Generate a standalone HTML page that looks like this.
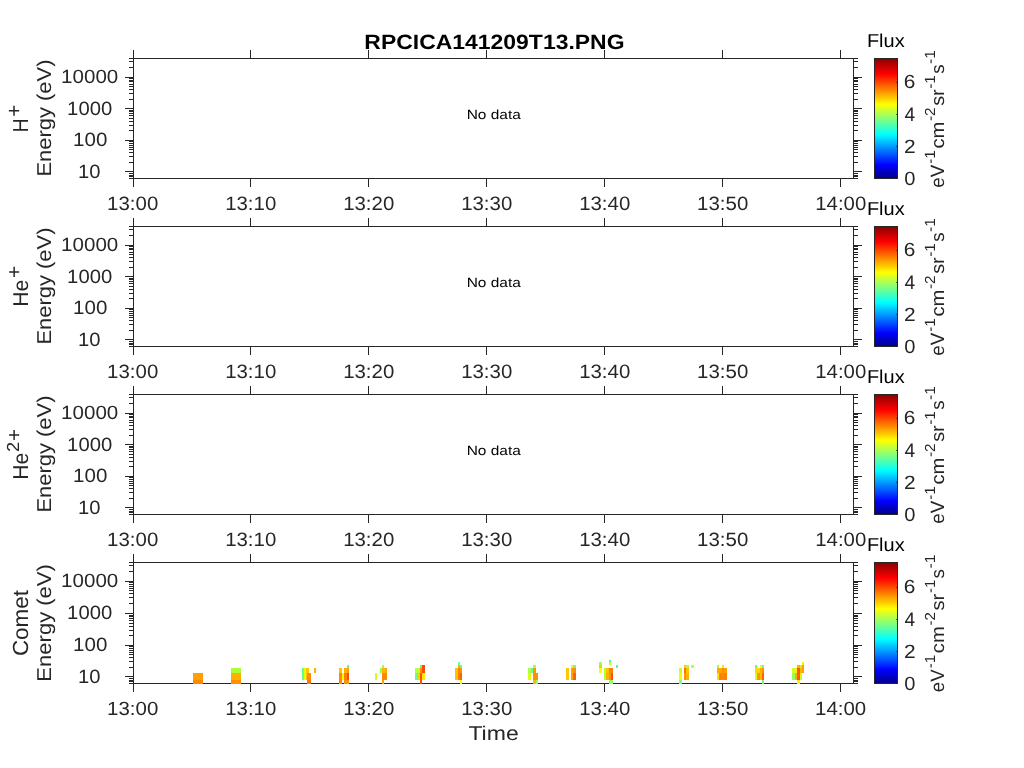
<!DOCTYPE html>
<html><head><meta charset="utf-8"><title>RPCICA141209T13</title>
<style>html,body{margin:0;padding:0;background:#fff;overflow:hidden;} svg{display:block;will-change:transform;} text{font-family:"Liberation Sans", sans-serif;text-rendering:geometricPrecision;}</style>
</head><body>
<svg width="1024" height="768" viewBox="0 0 1024 768">
<defs><linearGradient id="jet" x1="0" y1="1" x2="0" y2="0">
<stop offset="0" stop-color="#00008f"/><stop offset="0.111" stop-color="#0000ff"/>
<stop offset="0.365" stop-color="#00ffff"/><stop offset="0.619" stop-color="#ffff00"/>
<stop offset="0.873" stop-color="#ff0000"/><stop offset="1" stop-color="#8f0000"/></linearGradient></defs>
<rect x="0" y="0" width="1024" height="768" fill="#fff"/>
<g shape-rendering="crispEdges">
<rect x="133" y="58" width="721" height="1" fill="#262626"/>
<rect x="133" y="178" width="721" height="1" fill="#262626"/>
<rect x="133" y="58" width="1" height="121" fill="#262626"/>
<rect x="853" y="58" width="1" height="121" fill="#262626"/>
<rect x="133" y="50" width="1" height="8" fill="#262626"/>
<rect x="133" y="179" width="1" height="8" fill="#262626"/>
<rect x="250" y="50" width="1" height="8" fill="#262626"/>
<rect x="250" y="179" width="1" height="8" fill="#262626"/>
<rect x="368" y="50" width="1" height="8" fill="#262626"/>
<rect x="368" y="179" width="1" height="8" fill="#262626"/>
<rect x="486" y="50" width="1" height="8" fill="#262626"/>
<rect x="486" y="179" width="1" height="8" fill="#262626"/>
<rect x="604" y="50" width="1" height="8" fill="#262626"/>
<rect x="604" y="179" width="1" height="8" fill="#262626"/>
<rect x="722" y="50" width="1" height="8" fill="#262626"/>
<rect x="722" y="179" width="1" height="8" fill="#262626"/>
<rect x="840" y="50" width="1" height="8" fill="#262626"/>
<rect x="840" y="179" width="1" height="8" fill="#262626"/>
<rect x="125" y="171" width="8" height="1" fill="#262626"/>
<rect x="854" y="171" width="8" height="1" fill="#262626"/>
<rect x="125" y="140" width="8" height="1" fill="#262626"/>
<rect x="854" y="140" width="8" height="1" fill="#262626"/>
<rect x="125" y="108" width="8" height="1" fill="#262626"/>
<rect x="854" y="108" width="8" height="1" fill="#262626"/>
<rect x="125" y="77" width="8" height="1" fill="#262626"/>
<rect x="854" y="77" width="8" height="1" fill="#262626"/>
<rect x="129" y="162" width="4" height="1" fill="#262626"/>
<rect x="854" y="162" width="4" height="1" fill="#262626"/>
<rect x="129" y="156" width="4" height="1" fill="#262626"/>
<rect x="854" y="156" width="4" height="1" fill="#262626"/>
<rect x="129" y="152" width="4" height="1" fill="#262626"/>
<rect x="854" y="152" width="4" height="1" fill="#262626"/>
<rect x="129" y="149" width="4" height="1" fill="#262626"/>
<rect x="854" y="149" width="4" height="1" fill="#262626"/>
<rect x="129" y="147" width="4" height="1" fill="#262626"/>
<rect x="854" y="147" width="4" height="1" fill="#262626"/>
<rect x="129" y="145" width="4" height="1" fill="#262626"/>
<rect x="854" y="145" width="4" height="1" fill="#262626"/>
<rect x="129" y="143" width="4" height="1" fill="#262626"/>
<rect x="854" y="143" width="4" height="1" fill="#262626"/>
<rect x="129" y="141" width="4" height="1" fill="#262626"/>
<rect x="854" y="141" width="4" height="1" fill="#262626"/>
<rect x="129" y="130" width="4" height="1" fill="#262626"/>
<rect x="854" y="130" width="4" height="1" fill="#262626"/>
<rect x="129" y="125" width="4" height="1" fill="#262626"/>
<rect x="854" y="125" width="4" height="1" fill="#262626"/>
<rect x="129" y="121" width="4" height="1" fill="#262626"/>
<rect x="854" y="121" width="4" height="1" fill="#262626"/>
<rect x="129" y="118" width="4" height="1" fill="#262626"/>
<rect x="854" y="118" width="4" height="1" fill="#262626"/>
<rect x="129" y="115" width="4" height="1" fill="#262626"/>
<rect x="854" y="115" width="4" height="1" fill="#262626"/>
<rect x="129" y="113" width="4" height="1" fill="#262626"/>
<rect x="854" y="113" width="4" height="1" fill="#262626"/>
<rect x="129" y="111" width="4" height="1" fill="#262626"/>
<rect x="854" y="111" width="4" height="1" fill="#262626"/>
<rect x="129" y="110" width="4" height="1" fill="#262626"/>
<rect x="854" y="110" width="4" height="1" fill="#262626"/>
<rect x="129" y="99" width="4" height="1" fill="#262626"/>
<rect x="854" y="99" width="4" height="1" fill="#262626"/>
<rect x="129" y="93" width="4" height="1" fill="#262626"/>
<rect x="854" y="93" width="4" height="1" fill="#262626"/>
<rect x="129" y="89" width="4" height="1" fill="#262626"/>
<rect x="854" y="89" width="4" height="1" fill="#262626"/>
<rect x="129" y="86" width="4" height="1" fill="#262626"/>
<rect x="854" y="86" width="4" height="1" fill="#262626"/>
<rect x="129" y="84" width="4" height="1" fill="#262626"/>
<rect x="854" y="84" width="4" height="1" fill="#262626"/>
<rect x="129" y="81" width="4" height="1" fill="#262626"/>
<rect x="854" y="81" width="4" height="1" fill="#262626"/>
<rect x="129" y="80" width="4" height="1" fill="#262626"/>
<rect x="854" y="80" width="4" height="1" fill="#262626"/>
<rect x="129" y="78" width="4" height="1" fill="#262626"/>
<rect x="854" y="78" width="4" height="1" fill="#262626"/>
<rect x="129" y="67" width="4" height="1" fill="#262626"/>
<rect x="854" y="67" width="4" height="1" fill="#262626"/>
<rect x="129" y="61" width="4" height="1" fill="#262626"/>
<rect x="854" y="61" width="4" height="1" fill="#262626"/>
<rect x="129" y="58" width="4" height="1" fill="#262626"/>
<rect x="854" y="58" width="4" height="1" fill="#262626"/>
<rect x="129" y="173" width="4" height="1" fill="#262626"/>
<rect x="854" y="173" width="4" height="1" fill="#262626"/>
<rect x="129" y="175" width="4" height="1" fill="#262626"/>
<rect x="854" y="175" width="4" height="1" fill="#262626"/>
<rect x="129" y="176" width="4" height="1" fill="#262626"/>
<rect x="854" y="176" width="4" height="1" fill="#262626"/>
<rect x="129" y="178" width="4" height="1" fill="#262626"/>
<rect x="854" y="178" width="4" height="1" fill="#262626"/>
<rect x="875" y="59" width="22" height="119" fill="url(#jet)"/>
<rect x="874" y="58" width="24" height="1" fill="#262626"/>
<rect x="874" y="178" width="24" height="1" fill="#262626"/>
<rect x="874" y="58" width="1" height="121" fill="#262626"/>
<rect x="897" y="58" width="1" height="121" fill="#262626"/>
<rect x="896" y="146" width="1" height="1" fill="rgba(38,38,38,0.7)"/>
<rect x="896" y="114" width="1" height="1" fill="rgba(38,38,38,0.7)"/>
<rect x="896" y="82" width="1" height="1" fill="rgba(38,38,38,0.7)"/>
<rect x="133" y="226" width="721" height="1" fill="#262626"/>
<rect x="133" y="346" width="721" height="1" fill="#262626"/>
<rect x="133" y="226" width="1" height="121" fill="#262626"/>
<rect x="853" y="226" width="1" height="121" fill="#262626"/>
<rect x="133" y="218" width="1" height="8" fill="#262626"/>
<rect x="133" y="347" width="1" height="8" fill="#262626"/>
<rect x="250" y="218" width="1" height="8" fill="#262626"/>
<rect x="250" y="347" width="1" height="8" fill="#262626"/>
<rect x="368" y="218" width="1" height="8" fill="#262626"/>
<rect x="368" y="347" width="1" height="8" fill="#262626"/>
<rect x="486" y="218" width="1" height="8" fill="#262626"/>
<rect x="486" y="347" width="1" height="8" fill="#262626"/>
<rect x="604" y="218" width="1" height="8" fill="#262626"/>
<rect x="604" y="347" width="1" height="8" fill="#262626"/>
<rect x="722" y="218" width="1" height="8" fill="#262626"/>
<rect x="722" y="347" width="1" height="8" fill="#262626"/>
<rect x="840" y="218" width="1" height="8" fill="#262626"/>
<rect x="840" y="347" width="1" height="8" fill="#262626"/>
<rect x="125" y="339" width="8" height="1" fill="#262626"/>
<rect x="854" y="339" width="8" height="1" fill="#262626"/>
<rect x="125" y="308" width="8" height="1" fill="#262626"/>
<rect x="854" y="308" width="8" height="1" fill="#262626"/>
<rect x="125" y="276" width="8" height="1" fill="#262626"/>
<rect x="854" y="276" width="8" height="1" fill="#262626"/>
<rect x="125" y="245" width="8" height="1" fill="#262626"/>
<rect x="854" y="245" width="8" height="1" fill="#262626"/>
<rect x="129" y="330" width="4" height="1" fill="#262626"/>
<rect x="854" y="330" width="4" height="1" fill="#262626"/>
<rect x="129" y="324" width="4" height="1" fill="#262626"/>
<rect x="854" y="324" width="4" height="1" fill="#262626"/>
<rect x="129" y="320" width="4" height="1" fill="#262626"/>
<rect x="854" y="320" width="4" height="1" fill="#262626"/>
<rect x="129" y="317" width="4" height="1" fill="#262626"/>
<rect x="854" y="317" width="4" height="1" fill="#262626"/>
<rect x="129" y="315" width="4" height="1" fill="#262626"/>
<rect x="854" y="315" width="4" height="1" fill="#262626"/>
<rect x="129" y="313" width="4" height="1" fill="#262626"/>
<rect x="854" y="313" width="4" height="1" fill="#262626"/>
<rect x="129" y="311" width="4" height="1" fill="#262626"/>
<rect x="854" y="311" width="4" height="1" fill="#262626"/>
<rect x="129" y="309" width="4" height="1" fill="#262626"/>
<rect x="854" y="309" width="4" height="1" fill="#262626"/>
<rect x="129" y="298" width="4" height="1" fill="#262626"/>
<rect x="854" y="298" width="4" height="1" fill="#262626"/>
<rect x="129" y="293" width="4" height="1" fill="#262626"/>
<rect x="854" y="293" width="4" height="1" fill="#262626"/>
<rect x="129" y="289" width="4" height="1" fill="#262626"/>
<rect x="854" y="289" width="4" height="1" fill="#262626"/>
<rect x="129" y="286" width="4" height="1" fill="#262626"/>
<rect x="854" y="286" width="4" height="1" fill="#262626"/>
<rect x="129" y="283" width="4" height="1" fill="#262626"/>
<rect x="854" y="283" width="4" height="1" fill="#262626"/>
<rect x="129" y="281" width="4" height="1" fill="#262626"/>
<rect x="854" y="281" width="4" height="1" fill="#262626"/>
<rect x="129" y="279" width="4" height="1" fill="#262626"/>
<rect x="854" y="279" width="4" height="1" fill="#262626"/>
<rect x="129" y="278" width="4" height="1" fill="#262626"/>
<rect x="854" y="278" width="4" height="1" fill="#262626"/>
<rect x="129" y="267" width="4" height="1" fill="#262626"/>
<rect x="854" y="267" width="4" height="1" fill="#262626"/>
<rect x="129" y="261" width="4" height="1" fill="#262626"/>
<rect x="854" y="261" width="4" height="1" fill="#262626"/>
<rect x="129" y="257" width="4" height="1" fill="#262626"/>
<rect x="854" y="257" width="4" height="1" fill="#262626"/>
<rect x="129" y="254" width="4" height="1" fill="#262626"/>
<rect x="854" y="254" width="4" height="1" fill="#262626"/>
<rect x="129" y="252" width="4" height="1" fill="#262626"/>
<rect x="854" y="252" width="4" height="1" fill="#262626"/>
<rect x="129" y="249" width="4" height="1" fill="#262626"/>
<rect x="854" y="249" width="4" height="1" fill="#262626"/>
<rect x="129" y="248" width="4" height="1" fill="#262626"/>
<rect x="854" y="248" width="4" height="1" fill="#262626"/>
<rect x="129" y="246" width="4" height="1" fill="#262626"/>
<rect x="854" y="246" width="4" height="1" fill="#262626"/>
<rect x="129" y="235" width="4" height="1" fill="#262626"/>
<rect x="854" y="235" width="4" height="1" fill="#262626"/>
<rect x="129" y="229" width="4" height="1" fill="#262626"/>
<rect x="854" y="229" width="4" height="1" fill="#262626"/>
<rect x="129" y="226" width="4" height="1" fill="#262626"/>
<rect x="854" y="226" width="4" height="1" fill="#262626"/>
<rect x="129" y="341" width="4" height="1" fill="#262626"/>
<rect x="854" y="341" width="4" height="1" fill="#262626"/>
<rect x="129" y="343" width="4" height="1" fill="#262626"/>
<rect x="854" y="343" width="4" height="1" fill="#262626"/>
<rect x="129" y="344" width="4" height="1" fill="#262626"/>
<rect x="854" y="344" width="4" height="1" fill="#262626"/>
<rect x="129" y="346" width="4" height="1" fill="#262626"/>
<rect x="854" y="346" width="4" height="1" fill="#262626"/>
<rect x="875" y="227" width="22" height="119" fill="url(#jet)"/>
<rect x="874" y="226" width="24" height="1" fill="#262626"/>
<rect x="874" y="346" width="24" height="1" fill="#262626"/>
<rect x="874" y="226" width="1" height="121" fill="#262626"/>
<rect x="897" y="226" width="1" height="121" fill="#262626"/>
<rect x="896" y="314" width="1" height="1" fill="rgba(38,38,38,0.7)"/>
<rect x="896" y="282" width="1" height="1" fill="rgba(38,38,38,0.7)"/>
<rect x="896" y="250" width="1" height="1" fill="rgba(38,38,38,0.7)"/>
<rect x="133" y="394" width="721" height="1" fill="#262626"/>
<rect x="133" y="514" width="721" height="1" fill="#262626"/>
<rect x="133" y="394" width="1" height="121" fill="#262626"/>
<rect x="853" y="394" width="1" height="121" fill="#262626"/>
<rect x="133" y="386" width="1" height="8" fill="#262626"/>
<rect x="133" y="515" width="1" height="8" fill="#262626"/>
<rect x="250" y="386" width="1" height="8" fill="#262626"/>
<rect x="250" y="515" width="1" height="8" fill="#262626"/>
<rect x="368" y="386" width="1" height="8" fill="#262626"/>
<rect x="368" y="515" width="1" height="8" fill="#262626"/>
<rect x="486" y="386" width="1" height="8" fill="#262626"/>
<rect x="486" y="515" width="1" height="8" fill="#262626"/>
<rect x="604" y="386" width="1" height="8" fill="#262626"/>
<rect x="604" y="515" width="1" height="8" fill="#262626"/>
<rect x="722" y="386" width="1" height="8" fill="#262626"/>
<rect x="722" y="515" width="1" height="8" fill="#262626"/>
<rect x="840" y="386" width="1" height="8" fill="#262626"/>
<rect x="840" y="515" width="1" height="8" fill="#262626"/>
<rect x="125" y="507" width="8" height="1" fill="#262626"/>
<rect x="854" y="507" width="8" height="1" fill="#262626"/>
<rect x="125" y="476" width="8" height="1" fill="#262626"/>
<rect x="854" y="476" width="8" height="1" fill="#262626"/>
<rect x="125" y="444" width="8" height="1" fill="#262626"/>
<rect x="854" y="444" width="8" height="1" fill="#262626"/>
<rect x="125" y="413" width="8" height="1" fill="#262626"/>
<rect x="854" y="413" width="8" height="1" fill="#262626"/>
<rect x="129" y="498" width="4" height="1" fill="#262626"/>
<rect x="854" y="498" width="4" height="1" fill="#262626"/>
<rect x="129" y="492" width="4" height="1" fill="#262626"/>
<rect x="854" y="492" width="4" height="1" fill="#262626"/>
<rect x="129" y="488" width="4" height="1" fill="#262626"/>
<rect x="854" y="488" width="4" height="1" fill="#262626"/>
<rect x="129" y="485" width="4" height="1" fill="#262626"/>
<rect x="854" y="485" width="4" height="1" fill="#262626"/>
<rect x="129" y="483" width="4" height="1" fill="#262626"/>
<rect x="854" y="483" width="4" height="1" fill="#262626"/>
<rect x="129" y="481" width="4" height="1" fill="#262626"/>
<rect x="854" y="481" width="4" height="1" fill="#262626"/>
<rect x="129" y="479" width="4" height="1" fill="#262626"/>
<rect x="854" y="479" width="4" height="1" fill="#262626"/>
<rect x="129" y="477" width="4" height="1" fill="#262626"/>
<rect x="854" y="477" width="4" height="1" fill="#262626"/>
<rect x="129" y="466" width="4" height="1" fill="#262626"/>
<rect x="854" y="466" width="4" height="1" fill="#262626"/>
<rect x="129" y="461" width="4" height="1" fill="#262626"/>
<rect x="854" y="461" width="4" height="1" fill="#262626"/>
<rect x="129" y="457" width="4" height="1" fill="#262626"/>
<rect x="854" y="457" width="4" height="1" fill="#262626"/>
<rect x="129" y="454" width="4" height="1" fill="#262626"/>
<rect x="854" y="454" width="4" height="1" fill="#262626"/>
<rect x="129" y="451" width="4" height="1" fill="#262626"/>
<rect x="854" y="451" width="4" height="1" fill="#262626"/>
<rect x="129" y="449" width="4" height="1" fill="#262626"/>
<rect x="854" y="449" width="4" height="1" fill="#262626"/>
<rect x="129" y="447" width="4" height="1" fill="#262626"/>
<rect x="854" y="447" width="4" height="1" fill="#262626"/>
<rect x="129" y="446" width="4" height="1" fill="#262626"/>
<rect x="854" y="446" width="4" height="1" fill="#262626"/>
<rect x="129" y="435" width="4" height="1" fill="#262626"/>
<rect x="854" y="435" width="4" height="1" fill="#262626"/>
<rect x="129" y="429" width="4" height="1" fill="#262626"/>
<rect x="854" y="429" width="4" height="1" fill="#262626"/>
<rect x="129" y="425" width="4" height="1" fill="#262626"/>
<rect x="854" y="425" width="4" height="1" fill="#262626"/>
<rect x="129" y="422" width="4" height="1" fill="#262626"/>
<rect x="854" y="422" width="4" height="1" fill="#262626"/>
<rect x="129" y="420" width="4" height="1" fill="#262626"/>
<rect x="854" y="420" width="4" height="1" fill="#262626"/>
<rect x="129" y="417" width="4" height="1" fill="#262626"/>
<rect x="854" y="417" width="4" height="1" fill="#262626"/>
<rect x="129" y="416" width="4" height="1" fill="#262626"/>
<rect x="854" y="416" width="4" height="1" fill="#262626"/>
<rect x="129" y="414" width="4" height="1" fill="#262626"/>
<rect x="854" y="414" width="4" height="1" fill="#262626"/>
<rect x="129" y="403" width="4" height="1" fill="#262626"/>
<rect x="854" y="403" width="4" height="1" fill="#262626"/>
<rect x="129" y="397" width="4" height="1" fill="#262626"/>
<rect x="854" y="397" width="4" height="1" fill="#262626"/>
<rect x="129" y="394" width="4" height="1" fill="#262626"/>
<rect x="854" y="394" width="4" height="1" fill="#262626"/>
<rect x="129" y="509" width="4" height="1" fill="#262626"/>
<rect x="854" y="509" width="4" height="1" fill="#262626"/>
<rect x="129" y="511" width="4" height="1" fill="#262626"/>
<rect x="854" y="511" width="4" height="1" fill="#262626"/>
<rect x="129" y="512" width="4" height="1" fill="#262626"/>
<rect x="854" y="512" width="4" height="1" fill="#262626"/>
<rect x="129" y="514" width="4" height="1" fill="#262626"/>
<rect x="854" y="514" width="4" height="1" fill="#262626"/>
<rect x="875" y="395" width="22" height="119" fill="url(#jet)"/>
<rect x="874" y="394" width="24" height="1" fill="#262626"/>
<rect x="874" y="514" width="24" height="1" fill="#262626"/>
<rect x="874" y="394" width="1" height="121" fill="#262626"/>
<rect x="897" y="394" width="1" height="121" fill="#262626"/>
<rect x="896" y="482" width="1" height="1" fill="rgba(38,38,38,0.7)"/>
<rect x="896" y="450" width="1" height="1" fill="rgba(38,38,38,0.7)"/>
<rect x="896" y="418" width="1" height="1" fill="rgba(38,38,38,0.7)"/>
<rect x="133" y="562" width="721" height="1" fill="#262626"/>
<rect x="133" y="683" width="721" height="1" fill="#262626"/>
<rect x="133" y="562" width="1" height="122" fill="#262626"/>
<rect x="853" y="562" width="1" height="122" fill="#262626"/>
<rect x="133" y="554" width="1" height="8" fill="#262626"/>
<rect x="133" y="684" width="1" height="8" fill="#262626"/>
<rect x="250" y="554" width="1" height="8" fill="#262626"/>
<rect x="250" y="684" width="1" height="8" fill="#262626"/>
<rect x="368" y="554" width="1" height="8" fill="#262626"/>
<rect x="368" y="684" width="1" height="8" fill="#262626"/>
<rect x="486" y="554" width="1" height="8" fill="#262626"/>
<rect x="486" y="684" width="1" height="8" fill="#262626"/>
<rect x="604" y="554" width="1" height="8" fill="#262626"/>
<rect x="604" y="684" width="1" height="8" fill="#262626"/>
<rect x="722" y="554" width="1" height="8" fill="#262626"/>
<rect x="722" y="684" width="1" height="8" fill="#262626"/>
<rect x="840" y="554" width="1" height="8" fill="#262626"/>
<rect x="840" y="684" width="1" height="8" fill="#262626"/>
<rect x="125" y="676" width="8" height="1" fill="#262626"/>
<rect x="854" y="676" width="8" height="1" fill="#262626"/>
<rect x="125" y="645" width="8" height="1" fill="#262626"/>
<rect x="854" y="645" width="8" height="1" fill="#262626"/>
<rect x="125" y="613" width="8" height="1" fill="#262626"/>
<rect x="854" y="613" width="8" height="1" fill="#262626"/>
<rect x="125" y="581" width="8" height="1" fill="#262626"/>
<rect x="854" y="581" width="8" height="1" fill="#262626"/>
<rect x="129" y="667" width="4" height="1" fill="#262626"/>
<rect x="854" y="667" width="4" height="1" fill="#262626"/>
<rect x="129" y="661" width="4" height="1" fill="#262626"/>
<rect x="854" y="661" width="4" height="1" fill="#262626"/>
<rect x="129" y="657" width="4" height="1" fill="#262626"/>
<rect x="854" y="657" width="4" height="1" fill="#262626"/>
<rect x="129" y="654" width="4" height="1" fill="#262626"/>
<rect x="854" y="654" width="4" height="1" fill="#262626"/>
<rect x="129" y="652" width="4" height="1" fill="#262626"/>
<rect x="854" y="652" width="4" height="1" fill="#262626"/>
<rect x="129" y="650" width="4" height="1" fill="#262626"/>
<rect x="854" y="650" width="4" height="1" fill="#262626"/>
<rect x="129" y="648" width="4" height="1" fill="#262626"/>
<rect x="854" y="648" width="4" height="1" fill="#262626"/>
<rect x="129" y="646" width="4" height="1" fill="#262626"/>
<rect x="854" y="646" width="4" height="1" fill="#262626"/>
<rect x="129" y="635" width="4" height="1" fill="#262626"/>
<rect x="854" y="635" width="4" height="1" fill="#262626"/>
<rect x="129" y="630" width="4" height="1" fill="#262626"/>
<rect x="854" y="630" width="4" height="1" fill="#262626"/>
<rect x="129" y="626" width="4" height="1" fill="#262626"/>
<rect x="854" y="626" width="4" height="1" fill="#262626"/>
<rect x="129" y="623" width="4" height="1" fill="#262626"/>
<rect x="854" y="623" width="4" height="1" fill="#262626"/>
<rect x="129" y="620" width="4" height="1" fill="#262626"/>
<rect x="854" y="620" width="4" height="1" fill="#262626"/>
<rect x="129" y="618" width="4" height="1" fill="#262626"/>
<rect x="854" y="618" width="4" height="1" fill="#262626"/>
<rect x="129" y="616" width="4" height="1" fill="#262626"/>
<rect x="854" y="616" width="4" height="1" fill="#262626"/>
<rect x="129" y="615" width="4" height="1" fill="#262626"/>
<rect x="854" y="615" width="4" height="1" fill="#262626"/>
<rect x="129" y="603" width="4" height="1" fill="#262626"/>
<rect x="854" y="603" width="4" height="1" fill="#262626"/>
<rect x="129" y="597" width="4" height="1" fill="#262626"/>
<rect x="854" y="597" width="4" height="1" fill="#262626"/>
<rect x="129" y="593" width="4" height="1" fill="#262626"/>
<rect x="854" y="593" width="4" height="1" fill="#262626"/>
<rect x="129" y="590" width="4" height="1" fill="#262626"/>
<rect x="854" y="590" width="4" height="1" fill="#262626"/>
<rect x="129" y="588" width="4" height="1" fill="#262626"/>
<rect x="854" y="588" width="4" height="1" fill="#262626"/>
<rect x="129" y="586" width="4" height="1" fill="#262626"/>
<rect x="854" y="586" width="4" height="1" fill="#262626"/>
<rect x="129" y="584" width="4" height="1" fill="#262626"/>
<rect x="854" y="584" width="4" height="1" fill="#262626"/>
<rect x="129" y="582" width="4" height="1" fill="#262626"/>
<rect x="854" y="582" width="4" height="1" fill="#262626"/>
<rect x="129" y="571" width="4" height="1" fill="#262626"/>
<rect x="854" y="571" width="4" height="1" fill="#262626"/>
<rect x="129" y="565" width="4" height="1" fill="#262626"/>
<rect x="854" y="565" width="4" height="1" fill="#262626"/>
<rect x="129" y="562" width="4" height="1" fill="#262626"/>
<rect x="854" y="562" width="4" height="1" fill="#262626"/>
<rect x="129" y="678" width="4" height="1" fill="#262626"/>
<rect x="854" y="678" width="4" height="1" fill="#262626"/>
<rect x="129" y="680" width="4" height="1" fill="#262626"/>
<rect x="854" y="680" width="4" height="1" fill="#262626"/>
<rect x="129" y="681" width="4" height="1" fill="#262626"/>
<rect x="854" y="681" width="4" height="1" fill="#262626"/>
<rect x="129" y="683" width="4" height="1" fill="#262626"/>
<rect x="854" y="683" width="4" height="1" fill="#262626"/>
<rect x="875" y="563" width="22" height="120" fill="url(#jet)"/>
<rect x="874" y="562" width="24" height="1" fill="#262626"/>
<rect x="874" y="683" width="24" height="1" fill="#262626"/>
<rect x="874" y="562" width="1" height="122" fill="#262626"/>
<rect x="897" y="562" width="1" height="122" fill="#262626"/>
<rect x="896" y="651" width="1" height="1" fill="rgba(38,38,38,0.7)"/>
<rect x="896" y="619" width="1" height="1" fill="rgba(38,38,38,0.7)"/>
<rect x="896" y="587" width="1" height="1" fill="rgba(38,38,38,0.7)"/>
<rect x="193" y="673" width="10" height="7" fill="#ffa000"/>
<rect x="193" y="680" width="10" height="4" fill="#ff8800"/>
<rect x="231" y="668" width="10" height="5" fill="#a8ff38"/>
<rect x="231" y="673" width="10" height="7" fill="#ffb000"/>
<rect x="231" y="680" width="10" height="4" fill="#ff9000"/>
<rect x="302" y="668" width="2" height="5" fill="#60ff88"/>
<rect x="302" y="673" width="2" height="7" fill="#60ff88"/>
<rect x="304" y="668" width="2" height="5" fill="#e0ff00"/>
<rect x="304" y="673" width="2" height="7" fill="#f0ff00"/>
<rect x="306" y="668" width="3" height="5" fill="#ffc800"/>
<rect x="306" y="673" width="1" height="7" fill="#ffc000"/>
<rect x="307" y="673" width="4" height="7" fill="#ff8c00"/>
<rect x="307" y="680" width="4" height="4" fill="#ff7800"/>
<rect x="314" y="668" width="2" height="5" fill="#ffb000"/>
<rect x="339" y="668" width="3" height="5" fill="#ffc000"/>
<rect x="339" y="673" width="3" height="7" fill="#ff8800"/>
<rect x="339" y="680" width="3" height="4" fill="#ff8800"/>
<rect x="342" y="673" width="2" height="7" fill="#e8ff00"/>
<rect x="344" y="668" width="3" height="5" fill="#ffb000"/>
<rect x="344" y="673" width="3" height="7" fill="#ff8000"/>
<rect x="344" y="680" width="3" height="4" fill="#ff9000"/>
<rect x="347" y="665" width="2" height="3" fill="#50ff90"/>
<rect x="347" y="668" width="2" height="5" fill="#ffa000"/>
<rect x="347" y="673" width="2" height="7" fill="#ff4800"/>
<rect x="347" y="680" width="2" height="4" fill="#ff9800"/>
<rect x="375" y="673" width="2" height="7" fill="#d0ff10"/>
<rect x="380" y="668" width="2" height="5" fill="#90ff60"/>
<rect x="382" y="665" width="2" height="3" fill="#90ff60"/>
<rect x="382" y="668" width="3" height="5" fill="#ffb800"/>
<rect x="382" y="673" width="3" height="7" fill="#ff8800"/>
<rect x="382" y="680" width="2" height="4" fill="#ffa000"/>
<rect x="385" y="668" width="2" height="5" fill="#ffa800"/>
<rect x="385" y="673" width="2" height="7" fill="#ff8800"/>
<rect x="415" y="668" width="2" height="5" fill="#b8ff40"/>
<rect x="415" y="673" width="2" height="7" fill="#60ff90"/>
<rect x="417" y="668" width="3" height="5" fill="#b8ff40"/>
<rect x="417" y="673" width="3" height="7" fill="#ffd000"/>
<rect x="420" y="665" width="2" height="3" fill="#60ff90"/>
<rect x="420" y="668" width="2" height="5" fill="#ff9000"/>
<rect x="420" y="673" width="2" height="7" fill="#ff5000"/>
<rect x="420" y="680" width="2" height="4" fill="#ff5000"/>
<rect x="422" y="665" width="3" height="3" fill="#ff4800"/>
<rect x="422" y="668" width="3" height="5" fill="#ff4800"/>
<rect x="422" y="673" width="3" height="7" fill="#ffee00"/>
<rect x="455" y="668" width="3" height="5" fill="#ffc000"/>
<rect x="455" y="673" width="3" height="7" fill="#ffc000"/>
<rect x="458" y="662" width="2" height="3" fill="#60ffa0"/>
<rect x="458" y="665" width="2" height="3" fill="#ffb000"/>
<rect x="458" y="668" width="2" height="5" fill="#ff8000"/>
<rect x="458" y="673" width="2" height="7" fill="#ff8000"/>
<rect x="460" y="665" width="2" height="3" fill="#60ff90"/>
<rect x="460" y="668" width="2" height="5" fill="#ff9800"/>
<rect x="460" y="673" width="2" height="7" fill="#ff6000"/>
<rect x="460" y="680" width="2" height="4" fill="#f0ff00"/>
<rect x="528" y="668" width="3" height="5" fill="#a8ff50"/>
<rect x="528" y="673" width="3" height="7" fill="#e0ff10"/>
<rect x="531" y="668" width="2" height="5" fill="#60ff90"/>
<rect x="533" y="665" width="3" height="3" fill="#a0ff50"/>
<rect x="533" y="668" width="3" height="5" fill="#ff9800"/>
<rect x="533" y="673" width="3" height="7" fill="#ff9000"/>
<rect x="533" y="680" width="3" height="4" fill="#ffb800"/>
<rect x="536" y="673" width="2" height="7" fill="#ff9000"/>
<rect x="536" y="680" width="2" height="4" fill="#90ff60"/>
<rect x="566" y="668" width="3" height="5" fill="#ffc800"/>
<rect x="566" y="673" width="3" height="7" fill="#ffc800"/>
<rect x="571" y="665" width="2" height="3" fill="#e8ff10"/>
<rect x="571" y="668" width="2" height="5" fill="#ffa000"/>
<rect x="571" y="673" width="2" height="7" fill="#ffa000"/>
<rect x="573" y="665" width="3" height="3" fill="#70ff80"/>
<rect x="573" y="668" width="3" height="5" fill="#ff8c00"/>
<rect x="573" y="673" width="3" height="7" fill="#ff6000"/>
<rect x="599" y="662" width="3" height="3" fill="#a0ff50"/>
<rect x="599" y="665" width="3" height="3" fill="#ffc800"/>
<rect x="599" y="668" width="3" height="5" fill="#f8ff00"/>
<rect x="604" y="668" width="2" height="5" fill="#b0ff30"/>
<rect x="604" y="673" width="2" height="7" fill="#b0ff30"/>
<rect x="606" y="668" width="3" height="5" fill="#ffc000"/>
<rect x="606" y="673" width="3" height="7" fill="#ffb000"/>
<rect x="609" y="660" width="2" height="2" fill="#30ffc0"/>
<rect x="609" y="662" width="2" height="3" fill="#b8ff30"/>
<rect x="609" y="668" width="2" height="5" fill="#ff8000"/>
<rect x="609" y="673" width="2" height="7" fill="#ff9000"/>
<rect x="609" y="680" width="2" height="4" fill="#90ff60"/>
<rect x="611" y="668" width="2" height="5" fill="#ff8000"/>
<rect x="611" y="673" width="2" height="7" fill="#ff5000"/>
<rect x="611" y="680" width="2" height="4" fill="#90ff60"/>
<rect x="616" y="665" width="2" height="3" fill="#40ffb0"/>
<rect x="679" y="668" width="3" height="5" fill="#c0ff30"/>
<rect x="679" y="673" width="3" height="7" fill="#f0ff00"/>
<rect x="679" y="680" width="3" height="4" fill="#80ff70"/>
<rect x="684" y="665" width="2" height="3" fill="#ffc800"/>
<rect x="684" y="668" width="2" height="5" fill="#ff7000"/>
<rect x="684" y="673" width="2" height="7" fill="#ff9000"/>
<rect x="686" y="665" width="3" height="3" fill="#a8ff50"/>
<rect x="686" y="668" width="3" height="5" fill="#ffc000"/>
<rect x="686" y="673" width="3" height="7" fill="#ffb000"/>
<rect x="691" y="665" width="3" height="3" fill="#c0ff30"/>
<rect x="717" y="665" width="2" height="3" fill="#a0ff30"/>
<rect x="717" y="668" width="2" height="5" fill="#ffa800"/>
<rect x="717" y="673" width="2" height="7" fill="#ffe000"/>
<rect x="719" y="668" width="3" height="5" fill="#ffa800"/>
<rect x="719" y="673" width="3" height="7" fill="#ff8000"/>
<rect x="722" y="665" width="2" height="3" fill="#ffe000"/>
<rect x="722" y="668" width="2" height="5" fill="#ff9000"/>
<rect x="722" y="673" width="2" height="7" fill="#ff8c00"/>
<rect x="724" y="668" width="3" height="5" fill="#ffa000"/>
<rect x="724" y="673" width="3" height="7" fill="#ff8000"/>
<rect x="755" y="665" width="2" height="3" fill="#60ff80"/>
<rect x="755" y="668" width="2" height="5" fill="#ffd800"/>
<rect x="755" y="673" width="2" height="7" fill="#d8ff10"/>
<rect x="757" y="668" width="3" height="5" fill="#ffd800"/>
<rect x="757" y="673" width="3" height="7" fill="#ff9800"/>
<rect x="760" y="665" width="2" height="3" fill="#f0ff00"/>
<rect x="760" y="668" width="2" height="5" fill="#ffb000"/>
<rect x="760" y="673" width="2" height="7" fill="#ffb800"/>
<rect x="762" y="665" width="2" height="3" fill="#60ff90"/>
<rect x="762" y="668" width="2" height="5" fill="#ff9000"/>
<rect x="762" y="673" width="2" height="7" fill="#ff6000"/>
<rect x="762" y="680" width="2" height="4" fill="#70ff70"/>
<rect x="792" y="668" width="3" height="5" fill="#d0ff20"/>
<rect x="792" y="673" width="3" height="7" fill="#90ff60"/>
<rect x="795" y="668" width="2" height="5" fill="#ffee00"/>
<rect x="795" y="673" width="2" height="7" fill="#ffb000"/>
<rect x="797" y="665" width="3" height="3" fill="#ffb000"/>
<rect x="797" y="668" width="3" height="5" fill="#ff5800"/>
<rect x="797" y="673" width="3" height="7" fill="#ff5800"/>
<rect x="797" y="680" width="3" height="4" fill="#ffee00"/>
<rect x="800" y="665" width="2" height="3" fill="#90ff60"/>
<rect x="800" y="668" width="2" height="5" fill="#ffb800"/>
<rect x="800" y="673" width="2" height="7" fill="#d0ff10"/>
<rect x="802" y="662" width="2" height="3" fill="#ffee00"/>
<rect x="802" y="665" width="2" height="3" fill="#ffa000"/>
<rect x="802" y="668" width="2" height="5" fill="#ffa000"/>
</g>
<g>
<text transform="translate(89.31 177.71) scale(1.1203 1.0675)" font-size="18" text-anchor="middle" fill="#262626">10</text>
<text transform="translate(90.23 145.61) scale(1.1422 1.0658)" font-size="18" text-anchor="middle" fill="#262626">100</text>
<text transform="translate(89.64 114.57) scale(1.1259 1.0662)" font-size="18" text-anchor="middle" fill="#262626">1000</text>
<text transform="translate(89.69 82.74) scale(1.1430 1.0634)" font-size="18" text-anchor="middle" fill="#262626">10000</text>
<text transform="translate(132.68 209.73) scale(1.1359 1.0767)" font-size="18" text-anchor="middle" fill="#262626">13:00</text>
<text transform="translate(250.69 209.72) scale(1.1348 1.0783)" font-size="18" text-anchor="middle" fill="#262626">13:10</text>
<text transform="translate(368.68 209.74) scale(1.1347 1.0746)" font-size="18" text-anchor="middle" fill="#262626">13:20</text>
<text transform="translate(486.69 209.72) scale(1.1348 1.0783)" font-size="18" text-anchor="middle" fill="#262626">13:30</text>
<text transform="translate(604.69 209.72) scale(1.1348 1.0783)" font-size="18" text-anchor="middle" fill="#262626">13:40</text>
<text transform="translate(722.68 209.74) scale(1.1355 1.0756)" font-size="18" text-anchor="middle" fill="#262626">13:50</text>
<text transform="translate(840.72 209.57) scale(1.1359 1.0805)" font-size="18" text-anchor="middle" fill="#262626">14:00</text>
<text transform="translate(904.16 184.79) scale(1.1165 1.0624)" font-size="18" text-anchor="start" fill="#262626">0</text>
<text transform="translate(903.91 152.58) scale(1.1639 1.0636)" font-size="18" text-anchor="start" fill="#262626">2</text>
<text transform="translate(904.52 120.73) scale(1.0586 1.0858)" font-size="18" text-anchor="start" fill="#262626">4</text>
<text transform="translate(903.87 87.71) scale(1.1597 1.0589)" font-size="18" text-anchor="start" fill="#262626">6</text>
<text transform="translate(885.78 46.70) scale(1.1102 1.0357)" font-size="18" text-anchor="middle" fill="#000">Flux</text>
<text transform="translate(493.72 119.02) scale(1.1449 0.9842)" font-size="13.5" text-anchor="middle" fill="#000">No data</text>
<text transform="translate(27.69 125.50) rotate(-90) scale(0.9497 1.0824)" font-size="20" text-anchor="middle" fill="#262626">H</text>
<text transform="translate(20.54 110.83) rotate(-90) scale(1.0270 1.0510)" font-size="20" text-anchor="middle" fill="#262626">+</text>
<text transform="translate(50.87 118.07) rotate(-90) scale(1.0971 1.0025)" font-size="20" text-anchor="middle" fill="#262626">Energy (eV)</text>
<text transform="translate(943.57 176.15) rotate(-90) scale(1.0419 1.0708)" font-size="18" text-anchor="middle" fill="#262626">eV</text>
<text transform="translate(934.70 157.14) rotate(-90) scale(1.1219 1.0944)" font-size="13.5" text-anchor="middle" fill="#262626">-1</text>
<text transform="translate(943.77 135.05) rotate(-90) scale(1.1270 1.0324)" font-size="18" text-anchor="middle" fill="#262626">cm</text>
<text transform="translate(934.51 114.28) rotate(-90) scale(1.1331 1.0772)" font-size="13.5" text-anchor="middle" fill="#262626">-2</text>
<text transform="translate(943.65 97.55) rotate(-90) scale(1.1061 1.0330)" font-size="18" text-anchor="middle" fill="#262626">sr</text>
<text transform="translate(934.70 81.97) rotate(-90) scale(1.1363 1.0910)" font-size="13.5" text-anchor="middle" fill="#262626">-1</text>
<text transform="translate(943.53 69.20) rotate(-90) scale(1.0376 1.0330)" font-size="18" text-anchor="middle" fill="#262626">s</text>
<text transform="translate(934.71 57.06) rotate(-90) scale(1.1443 1.0923)" font-size="13.5" text-anchor="middle" fill="#262626">-1</text>
<text transform="translate(89.31 345.71) scale(1.1203 1.0675)" font-size="18" text-anchor="middle" fill="#262626">10</text>
<text transform="translate(90.23 313.61) scale(1.1422 1.0658)" font-size="18" text-anchor="middle" fill="#262626">100</text>
<text transform="translate(89.64 282.57) scale(1.1259 1.0662)" font-size="18" text-anchor="middle" fill="#262626">1000</text>
<text transform="translate(89.69 250.74) scale(1.1430 1.0634)" font-size="18" text-anchor="middle" fill="#262626">10000</text>
<text transform="translate(132.68 377.73) scale(1.1359 1.0767)" font-size="18" text-anchor="middle" fill="#262626">13:00</text>
<text transform="translate(250.69 377.72) scale(1.1348 1.0783)" font-size="18" text-anchor="middle" fill="#262626">13:10</text>
<text transform="translate(368.68 377.74) scale(1.1347 1.0746)" font-size="18" text-anchor="middle" fill="#262626">13:20</text>
<text transform="translate(486.69 377.72) scale(1.1348 1.0783)" font-size="18" text-anchor="middle" fill="#262626">13:30</text>
<text transform="translate(604.69 377.72) scale(1.1348 1.0783)" font-size="18" text-anchor="middle" fill="#262626">13:40</text>
<text transform="translate(722.68 377.74) scale(1.1355 1.0756)" font-size="18" text-anchor="middle" fill="#262626">13:50</text>
<text transform="translate(840.72 377.57) scale(1.1359 1.0805)" font-size="18" text-anchor="middle" fill="#262626">14:00</text>
<text transform="translate(904.16 352.79) scale(1.1165 1.0624)" font-size="18" text-anchor="start" fill="#262626">0</text>
<text transform="translate(903.91 320.58) scale(1.1639 1.0636)" font-size="18" text-anchor="start" fill="#262626">2</text>
<text transform="translate(904.52 288.73) scale(1.0586 1.0858)" font-size="18" text-anchor="start" fill="#262626">4</text>
<text transform="translate(903.87 255.71) scale(1.1597 1.0589)" font-size="18" text-anchor="start" fill="#262626">6</text>
<text transform="translate(885.78 214.70) scale(1.1102 1.0357)" font-size="18" text-anchor="middle" fill="#000">Flux</text>
<text transform="translate(493.72 287.02) scale(1.1449 0.9842)" font-size="13.5" text-anchor="middle" fill="#000">No data</text>
<text transform="translate(27.55 293.28) rotate(-90) scale(1.0598 1.0700)" font-size="20" text-anchor="middle" fill="#262626">He</text>
<text transform="translate(20.74 272.01) rotate(-90) scale(1.0421 1.0286)" font-size="20" text-anchor="middle" fill="#262626">+</text>
<text transform="translate(50.87 286.07) rotate(-90) scale(1.0971 1.0025)" font-size="20" text-anchor="middle" fill="#262626">Energy (eV)</text>
<text transform="translate(943.57 344.15) rotate(-90) scale(1.0419 1.0708)" font-size="18" text-anchor="middle" fill="#262626">eV</text>
<text transform="translate(934.70 325.14) rotate(-90) scale(1.1219 1.0944)" font-size="13.5" text-anchor="middle" fill="#262626">-1</text>
<text transform="translate(943.77 303.05) rotate(-90) scale(1.1270 1.0324)" font-size="18" text-anchor="middle" fill="#262626">cm</text>
<text transform="translate(934.51 282.28) rotate(-90) scale(1.1331 1.0772)" font-size="13.5" text-anchor="middle" fill="#262626">-2</text>
<text transform="translate(943.65 265.55) rotate(-90) scale(1.1061 1.0330)" font-size="18" text-anchor="middle" fill="#262626">sr</text>
<text transform="translate(934.70 249.97) rotate(-90) scale(1.1363 1.0910)" font-size="13.5" text-anchor="middle" fill="#262626">-1</text>
<text transform="translate(943.53 237.20) rotate(-90) scale(1.0376 1.0330)" font-size="18" text-anchor="middle" fill="#262626">s</text>
<text transform="translate(934.71 225.06) rotate(-90) scale(1.1443 1.0923)" font-size="13.5" text-anchor="middle" fill="#262626">-1</text>
<text transform="translate(89.31 513.71) scale(1.1203 1.0675)" font-size="18" text-anchor="middle" fill="#262626">10</text>
<text transform="translate(90.23 481.61) scale(1.1422 1.0658)" font-size="18" text-anchor="middle" fill="#262626">100</text>
<text transform="translate(89.64 450.57) scale(1.1259 1.0662)" font-size="18" text-anchor="middle" fill="#262626">1000</text>
<text transform="translate(89.69 418.74) scale(1.1430 1.0634)" font-size="18" text-anchor="middle" fill="#262626">10000</text>
<text transform="translate(132.68 545.73) scale(1.1359 1.0767)" font-size="18" text-anchor="middle" fill="#262626">13:00</text>
<text transform="translate(250.69 545.72) scale(1.1348 1.0783)" font-size="18" text-anchor="middle" fill="#262626">13:10</text>
<text transform="translate(368.68 545.74) scale(1.1347 1.0746)" font-size="18" text-anchor="middle" fill="#262626">13:20</text>
<text transform="translate(486.69 545.72) scale(1.1348 1.0783)" font-size="18" text-anchor="middle" fill="#262626">13:30</text>
<text transform="translate(604.69 545.72) scale(1.1348 1.0783)" font-size="18" text-anchor="middle" fill="#262626">13:40</text>
<text transform="translate(722.68 545.74) scale(1.1355 1.0756)" font-size="18" text-anchor="middle" fill="#262626">13:50</text>
<text transform="translate(840.72 545.57) scale(1.1359 1.0805)" font-size="18" text-anchor="middle" fill="#262626">14:00</text>
<text transform="translate(904.16 520.79) scale(1.1165 1.0624)" font-size="18" text-anchor="start" fill="#262626">0</text>
<text transform="translate(903.91 488.58) scale(1.1639 1.0636)" font-size="18" text-anchor="start" fill="#262626">2</text>
<text transform="translate(904.52 456.73) scale(1.0586 1.0858)" font-size="18" text-anchor="start" fill="#262626">4</text>
<text transform="translate(903.87 423.71) scale(1.1597 1.0589)" font-size="18" text-anchor="start" fill="#262626">6</text>
<text transform="translate(885.78 382.70) scale(1.1102 1.0357)" font-size="18" text-anchor="middle" fill="#000">Flux</text>
<text transform="translate(493.72 455.02) scale(1.1449 0.9842)" font-size="13.5" text-anchor="middle" fill="#000">No data</text>
<text transform="translate(27.63 466.14) rotate(-90) scale(1.0605 1.0783)" font-size="20" text-anchor="middle" fill="#262626">He</text>
<text transform="translate(18.63 446.81) rotate(-90) scale(1.3019 1.2439)" font-size="14" text-anchor="middle" fill="#262626">2</text>
<text transform="translate(20.64 434.97) rotate(-90) scale(1.0340 1.0359)" font-size="20" text-anchor="middle" fill="#262626">+</text>
<text transform="translate(50.87 454.07) rotate(-90) scale(1.0971 1.0025)" font-size="20" text-anchor="middle" fill="#262626">Energy (eV)</text>
<text transform="translate(943.57 512.15) rotate(-90) scale(1.0419 1.0708)" font-size="18" text-anchor="middle" fill="#262626">eV</text>
<text transform="translate(934.70 493.14) rotate(-90) scale(1.1219 1.0944)" font-size="13.5" text-anchor="middle" fill="#262626">-1</text>
<text transform="translate(943.77 471.05) rotate(-90) scale(1.1270 1.0324)" font-size="18" text-anchor="middle" fill="#262626">cm</text>
<text transform="translate(934.51 450.28) rotate(-90) scale(1.1331 1.0772)" font-size="13.5" text-anchor="middle" fill="#262626">-2</text>
<text transform="translate(943.65 433.55) rotate(-90) scale(1.1061 1.0330)" font-size="18" text-anchor="middle" fill="#262626">sr</text>
<text transform="translate(934.70 417.97) rotate(-90) scale(1.1363 1.0910)" font-size="13.5" text-anchor="middle" fill="#262626">-1</text>
<text transform="translate(943.53 405.20) rotate(-90) scale(1.0376 1.0330)" font-size="18" text-anchor="middle" fill="#262626">s</text>
<text transform="translate(934.71 393.06) rotate(-90) scale(1.1443 1.0923)" font-size="13.5" text-anchor="middle" fill="#262626">-1</text>
<text transform="translate(89.31 682.60) scale(1.1203 1.0675)" font-size="18" text-anchor="middle" fill="#262626">10</text>
<text transform="translate(90.23 650.66) scale(1.1422 1.0658)" font-size="18" text-anchor="middle" fill="#262626">100</text>
<text transform="translate(89.64 618.57) scale(1.1259 1.0662)" font-size="18" text-anchor="middle" fill="#262626">1000</text>
<text transform="translate(89.69 586.66) scale(1.1430 1.0634)" font-size="18" text-anchor="middle" fill="#262626">10000</text>
<text transform="translate(132.68 714.53) scale(1.1357 1.0582)" font-size="18" text-anchor="middle" fill="#262626">13:00</text>
<text transform="translate(250.71 714.79) scale(1.1348 1.0638)" font-size="18" text-anchor="middle" fill="#262626">13:10</text>
<text transform="translate(368.71 714.79) scale(1.1350 1.0647)" font-size="18" text-anchor="middle" fill="#262626">13:20</text>
<text transform="translate(486.71 714.79) scale(1.1350 1.0646)" font-size="18" text-anchor="middle" fill="#262626">13:30</text>
<text transform="translate(604.71 714.79) scale(1.1348 1.0638)" font-size="18" text-anchor="middle" fill="#262626">13:40</text>
<text transform="translate(722.72 714.79) scale(1.1373 1.0646)" font-size="18" text-anchor="middle" fill="#262626">13:50</text>
<text transform="translate(840.65 714.64) scale(1.1358 1.0648)" font-size="18" text-anchor="middle" fill="#262626">14:00</text>
<text transform="translate(904.16 689.79) scale(1.1165 1.0624)" font-size="18" text-anchor="start" fill="#262626">0</text>
<text transform="translate(903.91 657.58) scale(1.1639 1.0636)" font-size="18" text-anchor="start" fill="#262626">2</text>
<text transform="translate(904.52 625.73) scale(1.0586 1.0858)" font-size="18" text-anchor="start" fill="#262626">4</text>
<text transform="translate(903.87 592.71) scale(1.1597 1.0589)" font-size="18" text-anchor="start" fill="#262626">6</text>
<text transform="translate(885.78 550.70) scale(1.1102 1.0357)" font-size="18" text-anchor="middle" fill="#000">Flux</text>
<text transform="translate(27.53 623.08) rotate(-90) scale(1.1190 1.0923)" font-size="20" text-anchor="middle" fill="#262626">Comet</text>
<text transform="translate(50.87 622.87) rotate(-90) scale(1.1018 1.0031)" font-size="20" text-anchor="middle" fill="#262626">Energy (eV)</text>
<text transform="translate(943.68 680.75) rotate(-90) scale(1.0359 1.0737)" font-size="18" text-anchor="middle" fill="#262626">eV</text>
<text transform="translate(934.71 661.49) rotate(-90) scale(1.1151 1.0902)" font-size="13.5" text-anchor="middle" fill="#262626">-1</text>
<text transform="translate(943.61 639.70) rotate(-90) scale(1.1202 1.0302)" font-size="18" text-anchor="middle" fill="#262626">cm</text>
<text transform="translate(934.51 618.88) rotate(-90) scale(1.1196 1.0771)" font-size="13.5" text-anchor="middle" fill="#262626">-2</text>
<text transform="translate(943.77 602.07) rotate(-90) scale(1.1211 1.0305)" font-size="18" text-anchor="middle" fill="#262626">sr</text>
<text transform="translate(934.75 586.37) rotate(-90) scale(1.1149 1.0877)" font-size="13.5" text-anchor="middle" fill="#262626">-1</text>
<text transform="translate(943.79 573.74) rotate(-90) scale(1.0484 1.0325)" font-size="18" text-anchor="middle" fill="#262626">s</text>
<text transform="translate(934.74 561.52) rotate(-90) scale(1.1539 1.0877)" font-size="13.5" text-anchor="middle" fill="#262626">-1</text>
<text transform="translate(494.43 48.78) scale(1.1471 1.0342)" font-size="20" text-anchor="middle" fill="#000" font-weight="bold">RPCICA141209T13.PNG</text>
<text transform="translate(493.53 739.54) scale(1.1510 0.9917)" font-size="20" text-anchor="middle" fill="#262626">Time</text>
</g>
</svg>
</body></html>
